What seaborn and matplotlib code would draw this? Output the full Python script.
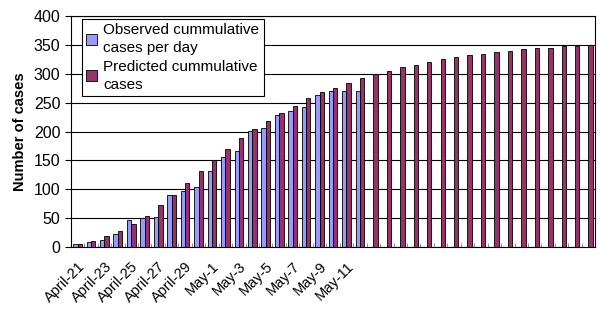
import pandas as pd
import seaborn as sns
import matplotlib.pyplot as plt
from matplotlib.ticker import FixedLocator

# Data
days = [f'April-{d}' for d in range(21, 31)] + [f'May-{d}' for d in range(1, 30)]
observed = [5, 9, 12, 22, 46, 50, 51, 90, 97, 104, 131, 156, 166, 201, 207,
            229, 236, 243, 264, 270, 270, 271]
predicted = [5, 10, 19, 28, 39, 54, 72, 90, 111, 131, 150, 170, 189, 204, 219,
             232, 245, 258, 268, 276, 285, 293, 300, 305, 312, 316, 321, 326,
             329, 333, 334, 338, 340, 343, 345, 346, 348, 349, 350]
series_names = ['Observed cummulative\ncases per day', 'Predicted cummulative\ncases']
shown_labels = days[0:21:2]

obs = pd.DataFrame({'day': days[:len(observed)], 'cases': observed, 'series': series_names[0]})
pred = pd.DataFrame({'day': days, 'cases': predicted, 'series': series_names[1]})
data = pd.concat([obs, pred], ignore_index=True)

sns.set_style('white')
plt.rcParams['font.family'] = ['Liberation Sans', 'DejaVu Sans']
plt.rcParams['text.color'] = 'black'
plt.rcParams['axes.labelcolor'] = 'black'
plt.rcParams['xtick.color'] = 'black'
plt.rcParams['ytick.color'] = 'black'

fig, ax = plt.subplots(figsize=(6, 3.16), dpi=100)
fig.subplots_adjust(left=0.118, right=0.992, top=0.948, bottom=0.219)

sns.barplot(data=data, x='day', y='cases', hue='series', order=days,
            hue_order=series_names, palette=['#9999ff', '#993366'],
            saturation=1, width=0.65, errorbar=None,
            edgecolor='black', linewidth=0.6, ax=ax)

ax.set_xlim(-0.5, len(days) - 0.5)
ax.set_ylim(0, 400)
ax.set_yticks(range(0, 401, 50))
ax.yaxis.grid(True, color='black', linewidth=0.8)
ax.set_axisbelow(True)
for s in ax.spines.values():
    s.set_visible(True)
    s.set_color('black')
    s.set_linewidth(0.8)

# category labels every second day, boundary ticks as minor
ax.set_xticks(range(0, 21, 2))
ax.set_xticklabels(shown_labels, rotation=45, ha='right', rotation_mode='anchor')
ax.xaxis.set_minor_locator(FixedLocator([i - 0.5 for i in range(len(days) + 1)]))
ax.tick_params(axis='x', which='major', length=0, labelsize=10.5, pad=9)
ax.tick_params(axis='x', which='minor', direction='in', length=3, color='gray', bottom=True)
ax.tick_params(axis='y', left=True, length=4, labelsize=11.5)

ax.set_xlabel('')
ax.set_ylabel('Number of cases', fontsize=10.5, fontweight='bold', labelpad=5)

leg = ax.legend(loc='upper left', bbox_to_anchor=(0.021, 0.99), fontsize=11,
                frameon=True, fancybox=False, edgecolor='black', framealpha=1,
                borderaxespad=0, handlelength=0.7, handleheight=0.7,
                handletextpad=0.4, labelspacing=0.3, borderpad=0.3)
leg.get_frame().set_linewidth(0.8)
for t in leg.get_texts():
    t.set_linespacing(1.35)
    t.set_color('black')

plt.savefig('out.png', dpi=100)
